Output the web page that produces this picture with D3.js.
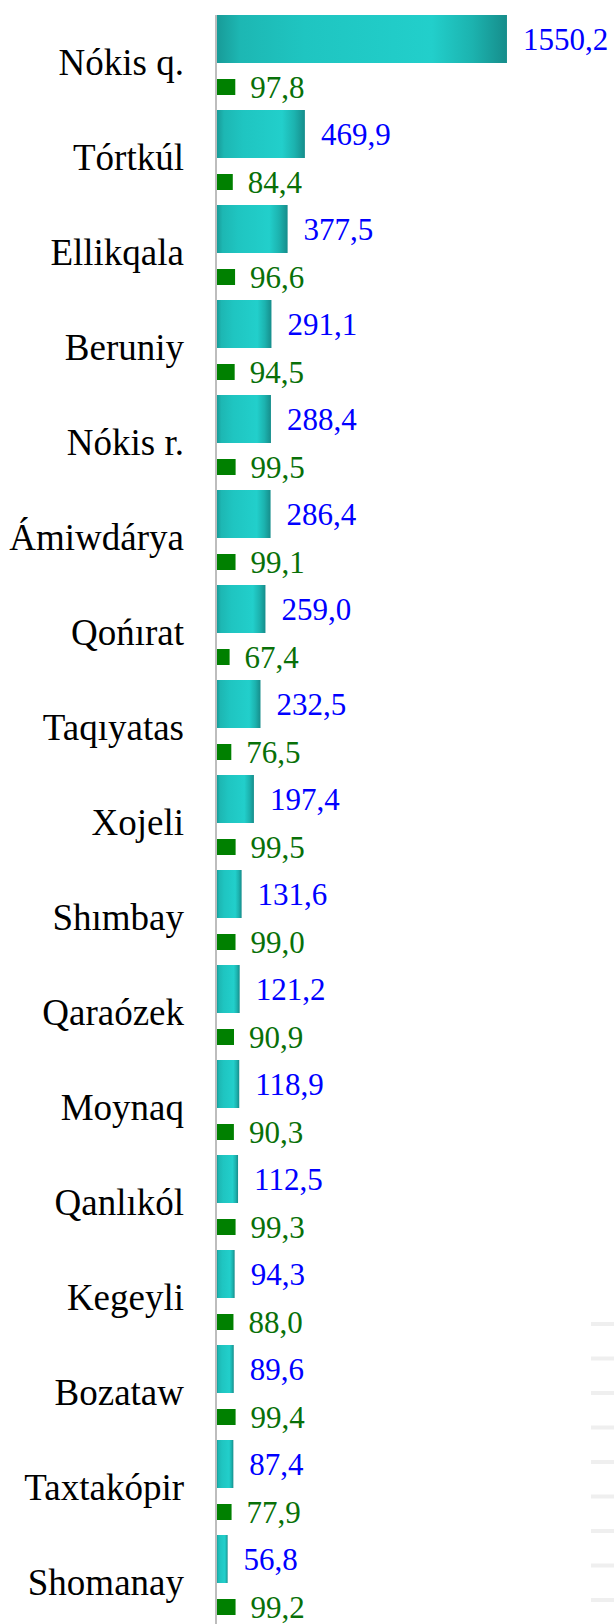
<!DOCTYPE html>
<html>
<head>
<meta charset="utf-8">
<script src="https://cdn.jsdelivr.net/npm/d3@7"></script>
<style>
    html, body { margin: 0; padding: 0; background: #fff; }
    svg { display: block; }
    text { font-family: "Liberation Serif", "Times New Roman", serif; }
</style>
</head>
<body>
<svg id="chart" width="614" height="1624"></svg>
<script>
// Districts (top to bottom)
const categories = [
    'Nókis q.', 'Tórtkúl', 'Ellikqala', 'Beruniy', 'Nókis r.', 'Ámiwdárya',
    'Qońırat', 'Taqıyatas', 'Xojeli', 'Shımbay', 'Qaraózek', 'Moynaq',
    'Qanlıkól', 'Kegeyli', 'Bozataw', 'Taxtakópir', 'Shomanay'
];

// Main series (teal bars, blue labels)
const mainValues = [
    1550.2, 469.9, 377.5, 291.1, 288.4, 286.4, 259.0, 232.5, 197.4,
    131.6, 121.2, 118.9, 112.5, 94.3, 89.6, 87.4, 56.8
];

// Second series (green bars, green labels)
const shareValues = [
    97.8, 84.4, 96.6, 94.5, 99.5, 99.1, 67.4, 76.5, 99.5,
    99.0, 90.9, 90.3, 99.3, 88.0, 99.4, 77.9, 99.2
];

const xDomain = [0, 2000];

const svg = d3.select('#chart');
const W = 614, H = 1624;

const x = d3.scaleLinear().domain(xDomain).range([217, 591.1]);
const y = d3.scaleBand().domain(categories).range([15, 15 + 95 * categories.length]).padding(0);
const bw = y.bandwidth();

const fmt = v => d3.format('.1f')(v).replace('.', ',');

// Bar gradient
const defs = svg.append('defs');
const grad = defs.append('linearGradient')
    .attr('id', 'barGrad')
    .attr('x1', '0%').attr('x2', '100%')
    .attr('y1', '0%').attr('y2', '0%');
[
    [0, '#189b98'], [0.08, '#1db7b3'], [0.3, '#1fc5c1'],
    [0.74, '#22cfcb'], [0.88, '#1cb3af'], [1, '#168d8b']
].forEach(([o, c]) => grad.append('stop').attr('offset', o).attr('stop-color', c));

// Faint decorative strips at lower right
const stripY = d3.scaleLinear().domain([0, 8]).range([1324, 1600]);
svg.append('g')
    .selectAll('rect')
    .data(d3.range(9))
    .join('rect')
    .attr('x', 591)
    .attr('y', d => stripY(d) - 2)
    .attr('width', W - 591)
    .attr('height', 4)
    .attr('fill', '#efefef');

// Vertical axis line
svg.append('line')
    .attr('x1', 216).attr('x2', 216)
    .attr('y1', 15).attr('y2', H)
    .attr('stroke', '#bdbdbd')
    .attr('stroke-width', 2);

const rows = svg.append('g')
    .selectAll('g')
    .data(categories)
    .join('g')
    .attr('transform', d => `translate(0,${y(d)})`);

// Main bars
rows.append('rect')
    .attr('x', x(0))
    .attr('y', 0)
    .attr('width', (d, i) => x(mainValues[i]) - x(0))
    .attr('height', bw * 48 / 95)
    .attr('fill', 'url(#barGrad)');

// Green bars
rows.append('rect')
    .attr('x', x(0))
    .attr('y', bw * 64 / 95)
    .attr('width', (d, i) => x(shareValues[i]) - x(0))
    .attr('height', bw * 16 / 95)
    .attr('fill', '#008000');

// Category labels
rows.append('text')
    .attr('x', 184)
    .attr('y', bw * 59.5 / 95)
    .attr('text-anchor', 'end')
    .attr('font-size', '37px')
    .attr('fill', '#000')
    .text(d => d);

// Main value labels
rows.append('text')
    .attr('x', (d, i) => x(mainValues[i]) + 16)
    .attr('y', bw * 24 / 95)
    .attr('dy', '0.35em')
    .attr('font-size', '31px')
    .attr('fill', '#0000ff')
    .text((d, i) => fmt(mainValues[i]));

// Green value labels
rows.append('text')
    .attr('x', (d, i) => x(shareValues[i]) + 15)
    .attr('y', bw * 72 / 95)
    .attr('dy', '0.35em')
    .attr('font-size', '31px')
    .attr('fill', '#087008')
    .text((d, i) => fmt(shareValues[i]));
</script>
</body>
</html>
